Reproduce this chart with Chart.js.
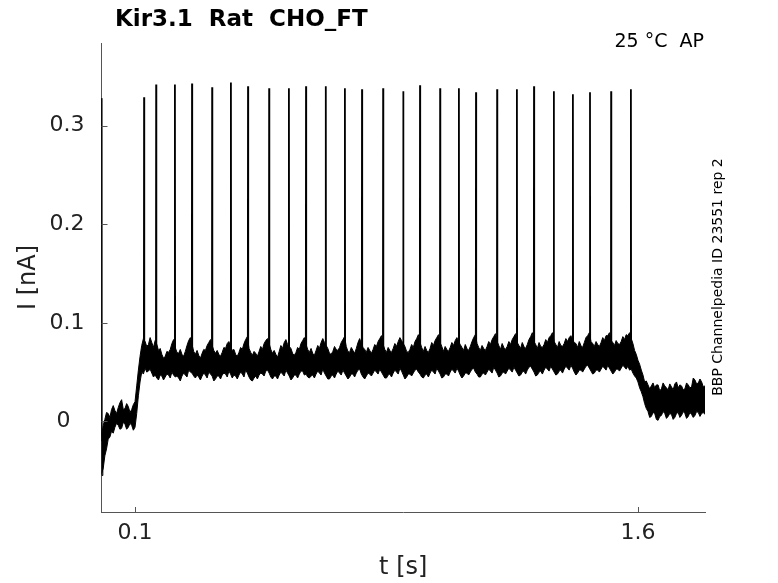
<!DOCTYPE html>
<html>
<head>
<meta charset="utf-8">
<script src="https://cdn.jsdelivr.net/npm/chart.js@4.4.1/dist/chart.umd.min.js"></script>
<style>
  html, body { margin: 0; padding: 0; background: #fff; }
  canvas { display: block; }
</style>
</head>
<body>
<canvas id="chart" width="778" height="583"></canvas>
<script>
// 축 눈금
const xTicks = [0.1, 1.6];
const xTickLabels = ["0.1", "1.6"];
const yTicks = [0, 0.1, 0.2, 0.3];
const yTickLabels = ["0\u2007", "0.1", "0.2", "0.3"];

// 잡음 띠 (0.01 s 간격, 0 ~ 1.80 s) : 위/아래 가장자리 [nA]
const sampleStep = 0.01;
const bandHigh = [
  -0.015, 0.002, 0.008, 0.012, 0.011, 0.014, 0.022, 0.013, 0.015, 0.012,
  0.020, 0.052, 0.077, 0.081, 0.078, 0.080, 0.082, 0.072, 0.068, 0.066,
  0.070, 0.079, 0.075, 0.069, 0.068, 0.071, 0.082, 0.078, 0.068, 0.067,
  0.069, 0.072, 0.080, 0.077, 0.069, 0.068, 0.070, 0.074, 0.081, 0.072,
  0.068, 0.070, 0.073, 0.083, 0.074, 0.067, 0.069, 0.071, 0.073, 0.082,
  0.079, 0.069, 0.068, 0.071, 0.074, 0.083, 0.076, 0.069, 0.070, 0.073,
  0.082, 0.078, 0.070, 0.069, 0.072, 0.074, 0.084, 0.077, 0.069, 0.071,
  0.073, 0.075, 0.083, 0.076, 0.070, 0.072, 0.074, 0.084, 0.075, 0.070,
  0.072, 0.073, 0.076, 0.084, 0.078, 0.070, 0.072, 0.074, 0.076, 0.085,
  0.079, 0.071, 0.073, 0.075, 0.084, 0.080, 0.071, 0.072, 0.074, 0.077,
  0.085, 0.080, 0.071, 0.073, 0.075, 0.077, 0.085, 0.078, 0.072, 0.074,
  0.076, 0.085, 0.079, 0.072, 0.074, 0.076, 0.078, 0.086, 0.081, 0.073,
  0.075, 0.076, 0.078, 0.086, 0.080, 0.074, 0.076, 0.078, 0.086, 0.081,
  0.074, 0.076, 0.078, 0.080, 0.087, 0.081, 0.075, 0.077, 0.079, 0.081,
  0.087, 0.080, 0.075, 0.077, 0.080, 0.087, 0.081, 0.076, 0.078, 0.080,
  0.082, 0.087, 0.082, 0.077, 0.079, 0.081, 0.083, 0.087, 0.084, 0.072,
  0.062, 0.052, 0.040, 0.037, 0.036, 0.034, 0.037, 0.033, 0.036, 0.032,
  0.035, 0.038, 0.034, 0.036, 0.033, 0.037, 0.035, 0.042, 0.039, 0.040,
  0.036
];
// 사이 시각 (0.005, 0.015, ...) 의 위 가장자리
const bandHighMid = [
  -0.004, 0.009, 0.004, 0.016, 0.008, 0.019, 0.012, 0.018, 0.009, 0.017,
  0.036, 0.066, 0.084, 0.076, 0.085, 0.075, 0.078, 0.074, 0.064, 0.071,
  0.073, 0.083, 0.070, 0.073, 0.066, 0.077, 0.085, 0.071, 0.072, 0.064,
  0.073, 0.077, 0.083, 0.072, 0.072, 0.066, 0.075, 0.079, 0.076, 0.073,
  0.066, 0.075, 0.079, 0.086, 0.070, 0.071, 0.066, 0.076, 0.079, 0.084,
  0.073, 0.072, 0.065, 0.077, 0.080, 0.078, 0.074, 0.067, 0.075, 0.079,
  0.085, 0.073, 0.074, 0.067, 0.077, 0.080, 0.080, 0.074, 0.068, 0.076,
  0.072, 0.080, 0.086, 0.071, 0.075, 0.069, 0.080, 0.079, 0.073, 0.075,
  0.069, 0.078, 0.081, 0.087, 0.073, 0.075, 0.070, 0.079, 0.081, 0.082,
  0.076, 0.070, 0.078, 0.081, 0.088, 0.075, 0.076, 0.070, 0.080, 0.082,
  0.088, 0.076, 0.076, 0.071, 0.080, 0.082, 0.081, 0.075, 0.078, 0.072,
  0.081, 0.088, 0.075, 0.077, 0.072, 0.081, 0.083, 0.089, 0.077, 0.079,
  0.073, 0.081, 0.083, 0.089, 0.077, 0.080, 0.074, 0.083, 0.090, 0.078,
  0.080, 0.075, 0.083, 0.085, 0.090, 0.078, 0.081, 0.076, 0.084, 0.085,
  0.083, 0.079, 0.081, 0.075, 0.085, 0.090, 0.079, 0.081, 0.076, 0.085,
  0.087, 0.090, 0.080, 0.082, 0.078, 0.086, 0.088, 0.090, 0.079, 0.068,
  0.058, 0.047, 0.041, 0.033, 0.039, 0.037, 0.031, 0.039, 0.034, 0.038,
  0.032, 0.040, 0.037, 0.032, 0.039, 0.034, 0.044, 0.038, 0.043, 0.035
];
const bandLow = [
  -0.053, -0.035, -0.018, -0.010, -0.006, -0.004, -0.007, -0.003, -0.006, -0.004,
  -0.006, 0.026, 0.050, 0.054, 0.051, 0.049, 0.047, 0.042, 0.046, 0.045,
  0.047, 0.050, 0.045, 0.044, 0.046, 0.047, 0.052, 0.049, 0.044, 0.045,
  0.046, 0.047, 0.050, 0.046, 0.043, 0.046, 0.047, 0.048, 0.051, 0.044,
  0.046, 0.047, 0.048, 0.052, 0.045, 0.041, 0.046, 0.047, 0.048, 0.051,
  0.049, 0.043, 0.046, 0.047, 0.048, 0.052, 0.046, 0.044, 0.047, 0.048,
  0.051, 0.048, 0.044, 0.047, 0.048, 0.049, 0.053, 0.046, 0.043, 0.047,
  0.048, 0.049, 0.052, 0.046, 0.045, 0.048, 0.049, 0.053, 0.045, 0.046,
  0.048, 0.049, 0.050, 0.053, 0.047, 0.044, 0.048, 0.049, 0.050, 0.054,
  0.047, 0.045, 0.048, 0.049, 0.053, 0.048, 0.044, 0.048, 0.049, 0.050,
  0.054, 0.048, 0.045, 0.048, 0.050, 0.051, 0.054, 0.047, 0.046, 0.049,
  0.050, 0.054, 0.048, 0.045, 0.049, 0.050, 0.051, 0.055, 0.049, 0.046,
  0.050, 0.051, 0.052, 0.055, 0.049, 0.047, 0.051, 0.052, 0.056, 0.050,
  0.047, 0.051, 0.052, 0.053, 0.056, 0.050, 0.048, 0.052, 0.053, 0.054,
  0.057, 0.050, 0.049, 0.052, 0.053, 0.057, 0.051, 0.049, 0.052, 0.053,
  0.054, 0.057, 0.051, 0.050, 0.053, 0.054, 0.055, 0.056, 0.053, 0.046,
  0.040, 0.030, 0.018, 0.010, 0.005, 0.008, 0.001, 0.006, 0.008, 0.005,
  0.007, 0.004, 0.009, 0.006, 0.008, 0.005, 0.007, 0.006, 0.009, 0.008,
  0.007
];
// 사이 시각의 아래 가장자리
const bandLowMid = [
  -0.048, -0.028, -0.016, -0.012, -0.002, -0.008, -0.001, -0.008, -0.002, -0.009,
  0.008, 0.040, 0.048, 0.050, 0.053, 0.045, 0.044, 0.047, 0.042, 0.048,
  0.044, 0.047, 0.046, 0.041, 0.049, 0.045, 0.050, 0.046, 0.047, 0.042,
  0.049, 0.044, 0.048, 0.041, 0.046, 0.043, 0.049, 0.045, 0.048, 0.047,
  0.043, 0.050, 0.045, 0.049, 0.042, 0.044, 0.043, 0.049, 0.046, 0.052,
  0.045, 0.046, 0.043, 0.050, 0.046, 0.049, 0.042, 0.047, 0.044, 0.051,
  0.047, 0.045, 0.046, 0.044, 0.051, 0.047, 0.049, 0.043, 0.046, 0.044,
  0.051, 0.047, 0.049, 0.043, 0.048, 0.045, 0.052, 0.048, 0.043, 0.049,
  0.046, 0.052, 0.048, 0.050, 0.044, 0.047, 0.045, 0.052, 0.048, 0.051,
  0.043, 0.048, 0.046, 0.052, 0.050, 0.045, 0.047, 0.045, 0.052, 0.048,
  0.051, 0.044, 0.048, 0.046, 0.053, 0.049, 0.051, 0.044, 0.049, 0.047,
  0.053, 0.050, 0.045, 0.048, 0.047, 0.053, 0.049, 0.052, 0.045, 0.049,
  0.048, 0.054, 0.050, 0.052, 0.046, 0.050, 0.048, 0.055, 0.053, 0.046,
  0.050, 0.048, 0.055, 0.051, 0.053, 0.047, 0.051, 0.049, 0.056, 0.052,
  0.054, 0.047, 0.052, 0.050, 0.056, 0.054, 0.048, 0.052, 0.050, 0.056,
  0.052, 0.054, 0.048, 0.053, 0.051, 0.057, 0.053, 0.052, 0.049, 0.044,
  0.034, 0.025, 0.013, 0.004, 0.009, 0.002, 0.005, 0.010, 0.003, 0.008,
  0.002, 0.008, 0.004, 0.010, 0.003, 0.009, 0.004, 0.010, 0.005, 0.009
];

// 스파이크 (시각 [s], 꼭대기 [nA])
const spikeT = [
  0.127, 0.163, 0.219, 0.270, 0.330, 0.386, 0.437, 0.500, 0.559, 0.610,
  0.669, 0.726, 0.777, 0.840, 0.900, 0.950, 1.010, 1.066, 1.117, 1.180,
  1.239, 1.290, 1.349, 1.406, 1.457, 1.520, 1.579
];
const spikePeak = [
  0.329, 0.342, 0.342, 0.343, 0.339, 0.344, 0.340, 0.338, 0.338, 0.340,
  0.340, 0.338, 0.337, 0.338, 0.335, 0.341, 0.338, 0.338, 0.334, 0.337,
  0.337, 0.340, 0.335, 0.332, 0.334, 0.335, 0.337
];
const spikeBase = 0.072;

// 시작 순간의 과도 전류
const onsetT = [0.0005, 0.001, 0.0015, 0.004];
const onsetI = [-0.02, 0.328, -0.055, -0.04];

const $chart = document.getElementById("chart").getContext("2d");
const FONT = "'DejaVu Sans', sans-serif";
const AXIS_COLOR = "#555";

// 격자 시각 값과 사이 시각 값을 번갈아 넣기
function edgePoints(grid, mid) {
  const pts = [];
  grid.forEach((v, i) => {
    pts.push({ x: i * sampleStep, y: v });
    if (i < mid.length) pts.push({ x: (i + 0.5) * sampleStep, y: mid[i] });
  });
  return pts;
}

const lowPoints = edgePoints(bandLow, bandLowMid);
const highPoints = edgePoints(bandHigh, bandHighMid);

const spikePoints = [];
spikeT.forEach((t, k) => {
  spikePoints.push({ x: t - 0.0006, y: spikeBase });
  spikePoints.push({ x: t, y: spikePeak[k] });
  spikePoints.push({ x: t + 0.0006, y: spikeBase });
  spikePoints.push({ x: t + 0.001, y: null });
});

const onsetPoints = onsetT.map((t, i) => ({ x: t, y: onsetI[i] }));

// 안쪽 눈금과 글자들
const decor = {
  id: "decor",
  afterDraw(chart) {
    const ctx = chart.ctx;
    const { x, y } = chart.scales;
    ctx.save();
    ctx.strokeStyle = AXIS_COLOR;
    ctx.lineWidth = 1;
    ctx.beginPath();
    for (const v of xTicks) {
      const px = Math.round(x.getPixelForValue(v)) + 0.5;
      ctx.moveTo(px, y.bottom);
      ctx.lineTo(px, y.bottom - 5);
    }
    for (const v of yTicks) {
      const py = Math.round(y.getPixelForValue(v)) + 0.5;
      ctx.moveTo(x.left, py);
      ctx.lineTo(x.left + 6, py);
    }
    ctx.stroke();

    ctx.fillStyle = "#000";
    ctx.textBaseline = "alphabetic";
    ctx.textAlign = "left";
    ctx.font = "bold 23px " + FONT;
    ctx.fillText("Kir3.1  Rat  CHO_FT", 115, 26);

    ctx.font = "19px " + FONT;
    ctx.textAlign = "right";
    ctx.fillText("25 °C  AP", 704, 47);

    ctx.translate(722, 277);
    ctx.rotate(-Math.PI / 2);
    ctx.textAlign = "center";
    ctx.font = "14px " + FONT;
    ctx.fillText("BBP Channelpedia ID 23551 rep 2", 0, 0);
    ctx.restore();
  },
};

new Chart($chart, {
  type: "line",
  data: {
    datasets: [
      {
        data: lowPoints,
        borderColor: "#000",
        borderWidth: 1,
        pointRadius: 0,
        fill: false,
      },
      {
        data: highPoints,
        borderColor: "#000",
        borderWidth: 1,
        pointRadius: 0,
        backgroundColor: "#000",
        fill: "-1",
      },
      {
        data: spikePoints,
        borderColor: "#000",
        borderWidth: 1.8,
        pointRadius: 0,
        spanGaps: false,
        fill: false,
      },
      {
        data: onsetPoints,
        borderColor: "#000",
        borderWidth: 1,
        pointRadius: 0,
        fill: false,
        clip: false,
      },
    ],
  },
  options: {
    responsive: false,
    animation: false,
    layout: { padding: { top: 43, right: 73, bottom: 0, left: 0 } },
    plugins: {
      legend: { display: false },
      tooltip: { enabled: false },
    },
    scales: {
      x: {
        type: "linear",
        min: 0,
        max: 1.8,
        afterBuildTicks: (s) => {
          s.ticks = xTicks.map((v) => ({ value: v }));
        },
        afterFit: (s) => {
          s.height = 71;
        },
        ticks: {
          autoSkip: false,
          maxRotation: 0,
          padding: 8,
          color: "#222",
          font: { family: FONT, size: 22 },
          callback: (v) => xTickLabels[xTicks.indexOf(v)],
        },
        grid: { drawOnChartArea: false, drawTicks: false },
        border: { display: true, color: AXIS_COLOR, width: 1 },
        title: {
          display: true,
          text: "t [s]",
          color: "#222",
          font: { family: FONT, size: 24 },
          padding: { top: 0, bottom: 1 },
        },
      },
      y: {
        type: "linear",
        min: -0.092,
        max: 0.384,
        afterBuildTicks: (s) => {
          s.ticks = yTicks.map((v) => ({ value: v }));
        },
        afterFit: (s) => {
          s.width = 101.5;
        },
        ticks: {
          padding: 17,
          color: "#222",
          font: { family: FONT, size: 22 },
          callback: (v) => yTickLabels[yTicks.indexOf(v)],
        },
        grid: { drawOnChartArea: false, drawTicks: false },
        border: { display: true, color: AXIS_COLOR, width: 1 },
        title: {
          display: true,
          text: "I [nA]",
          color: "#222",
          font: { family: FONT, size: 24 },
          padding: { top: 14, bottom: 0 },
        },
      },
    },
  },
  plugins: [decor],
});
</script>
</body>
</html>
